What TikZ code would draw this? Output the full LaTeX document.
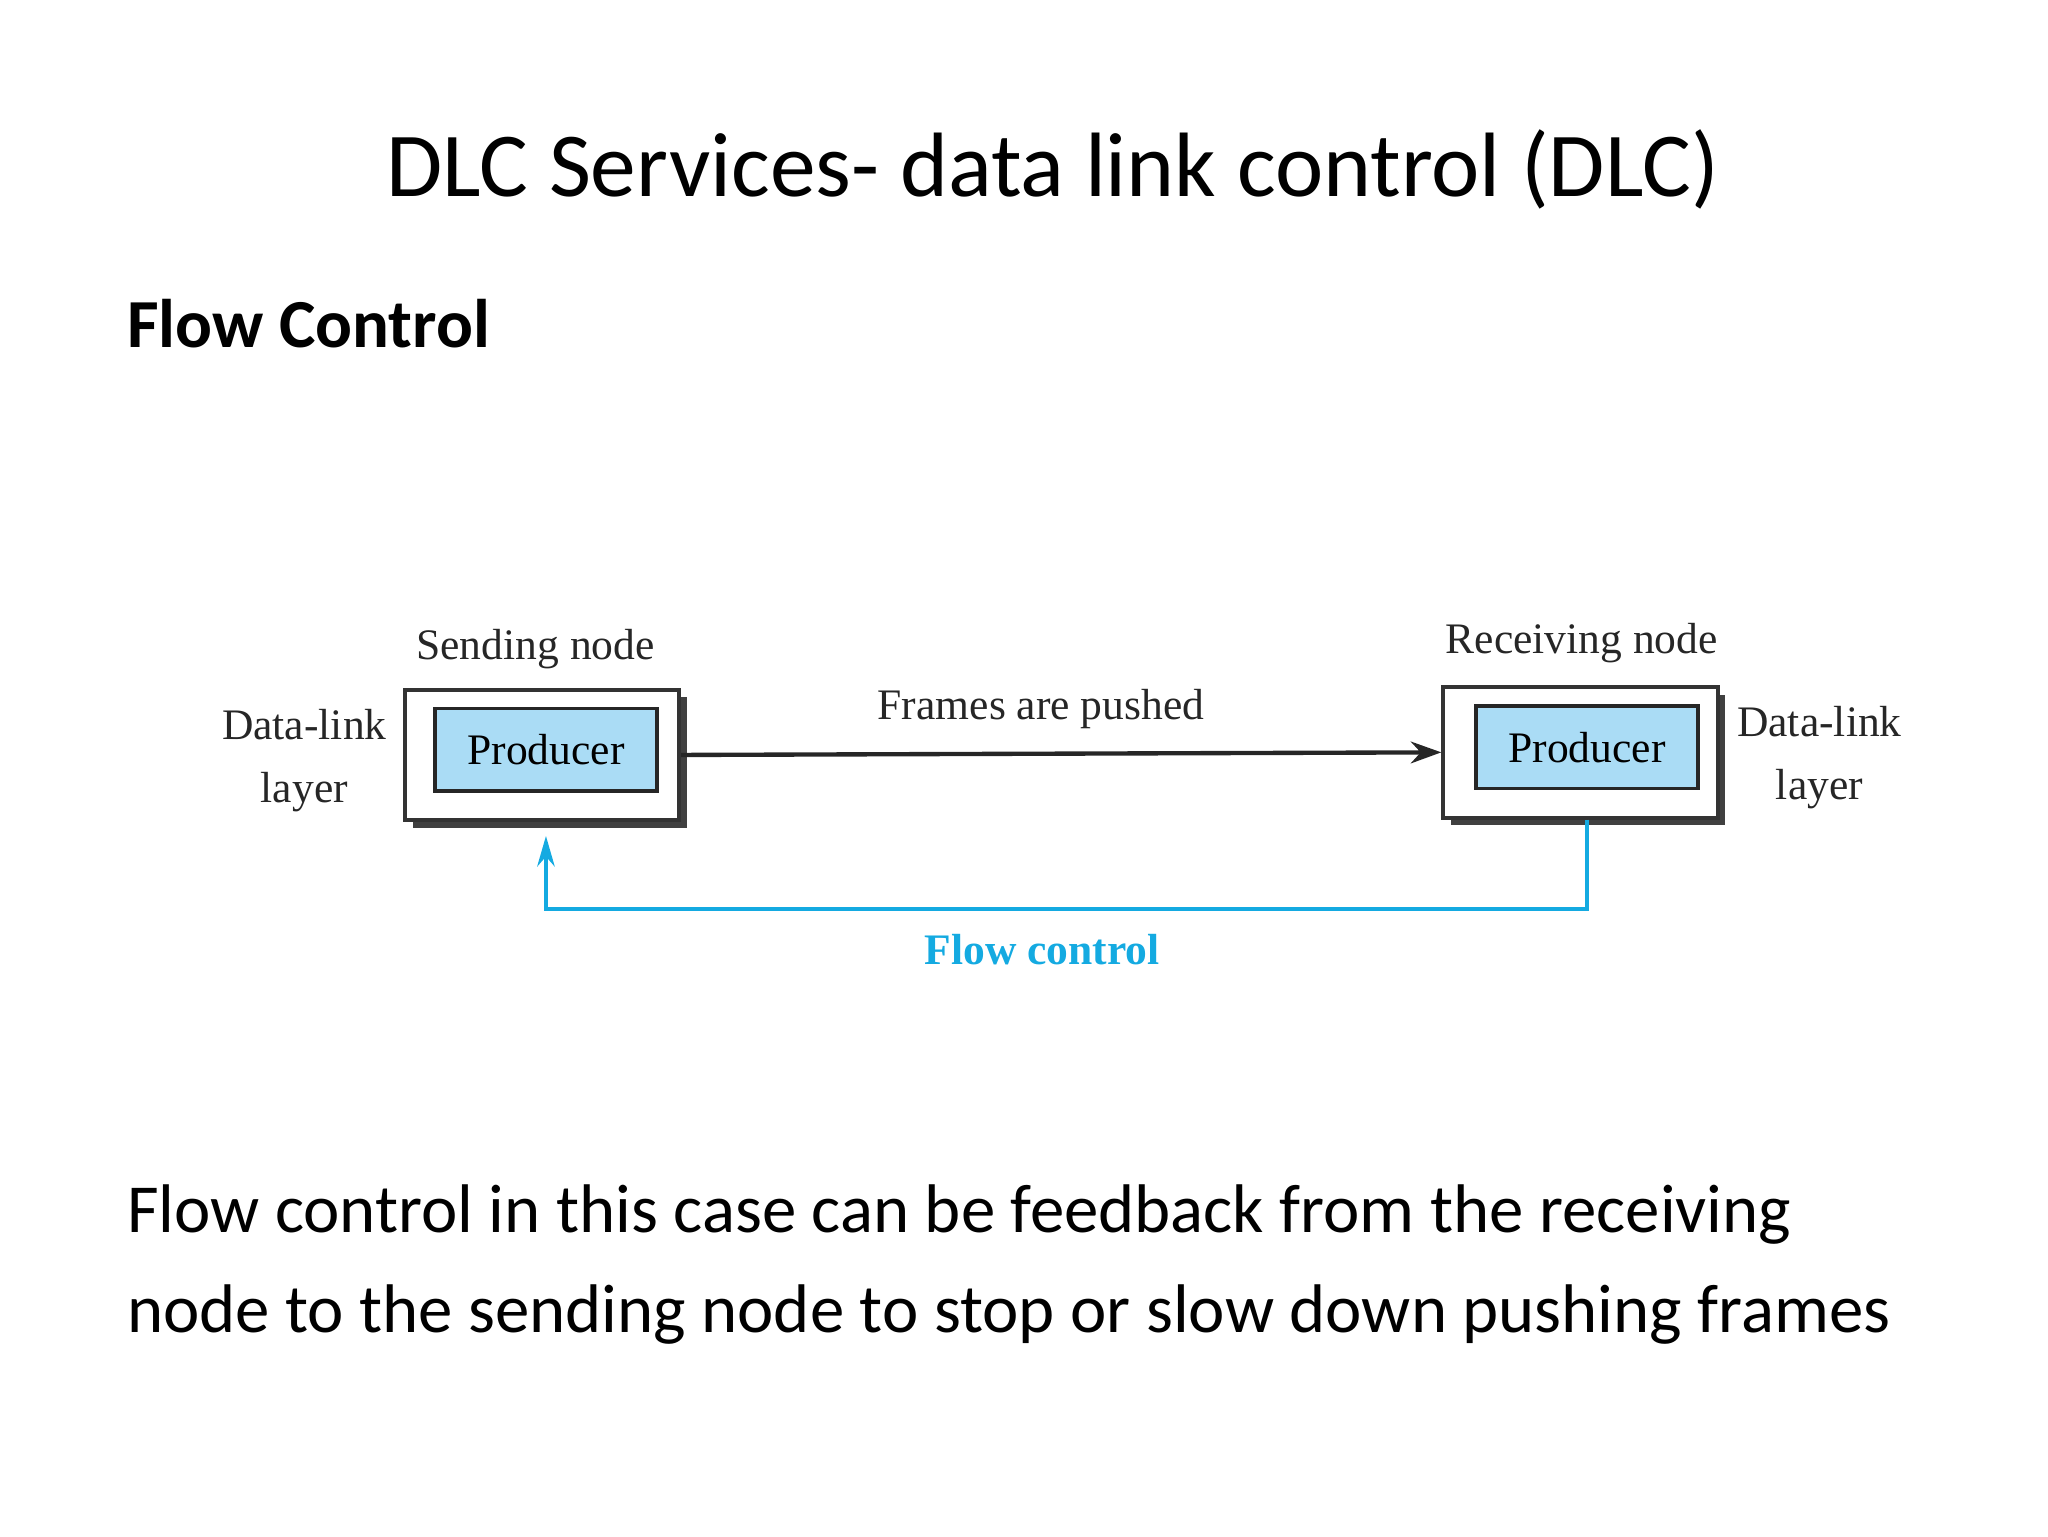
\documentclass[tikz,border=0pt]{standalone}
\usepackage{fontspec}
\setmainfont{Carlito}
\newfontfamily\figfont{Liberation Serif}
\usetikzlibrary{shadows,arrows.meta}

\tikzset{every picture/.style={line width=0.75pt}}
\tikzset{
  outerbox/.style={draw=black!80, fill=white, line width=0.9pt, minimum width=63pt, minimum height=30pt, inner sep=0pt,
    drop shadow={shadow xshift=1.8pt, shadow yshift=-1.8pt, fill=black!75, opacity=1}},
  innerbox/.style={draw=black!85, fill={rgb,255:red,170; green,220; blue,245}, line width=0.8pt, minimum width=51pt, minimum height=19pt, inner sep=0pt, font=\figfont\fontsize{10}{12}\selectfont},
  figtext/.style={font=\figfont\fontsize{10}{12}\selectfont, text=black!85, inner sep=0.75pt, align=center},
  flowcol/.style={color={rgb,255:red,20; green,170; blue,225}}
}

\begin{document}
\begin{tikzpicture}[x=0.3pt,y=0.3pt,yscale=-1,xscale=1]
\useasboundingbox (0,0) rectangle (1568,1176);

% Titles
\node (title) at (806,130) [font=\fontsize{21}{26}\selectfont] {DLC Services- data link control (DLC)};
\node (sub) at (96,248) [anchor=west, font=\bfseries\fontsize{15.8}{19}\selectfont, inner sep=0pt] {Flow Control};

% Boxes
\node (send) at (415,578) [outerbox] {};
\node (sprod) at (418,574) [innerbox] {Producer};
\node (recv) at (1210,576) [outerbox] {};
\node (rprod) at (1215,572) [innerbox] {Producer};

% Labels
\node (slab) at (410,497) [figtext] {Sending node};
\node (rlab) at (1211,492) [figtext] {Receiving node};
\node (sdl) at (233,582) [figtext, font=\figfont\fontsize{10}{14.5}\selectfont] {Data-link\\layer};
\node (rdl) at (1393,580) [figtext, font=\figfont\fontsize{10}{14.5}\selectfont] {Data-link\\layer};
\node (push) at (797,543) [figtext] {Frames are pushed};
\node (flow) at (798,727) [figtext, flowcol, font=\figfont\bfseries\fontsize{10}{12}\selectfont] {Flow control};

% Connectors
\draw [-{Stealth[length=7pt,width=5pt]}, line width=1pt, black!85] (send.east) -- (recv.west);
\coordinate (fb1) at (1215,696);
\coordinate (fb2) at (418,696);
\coordinate (fb3) at (418,640);
\draw [flowcol, line width=1pt, -{Stealth[length=7pt,width=4pt]}] (recv.south -| rprod) -- (fb1) -- (fb2) -- (fb3);

% Body
\node (body) at (96,968) [anchor=west, inner sep=0pt, align=left, font=\fontsize{15.8}{23}\selectfont] {Flow control in this case can be feedback from the receiving\\node to the sending node to stop or slow down pushing frames};

\end{tikzpicture}
\end{document}
